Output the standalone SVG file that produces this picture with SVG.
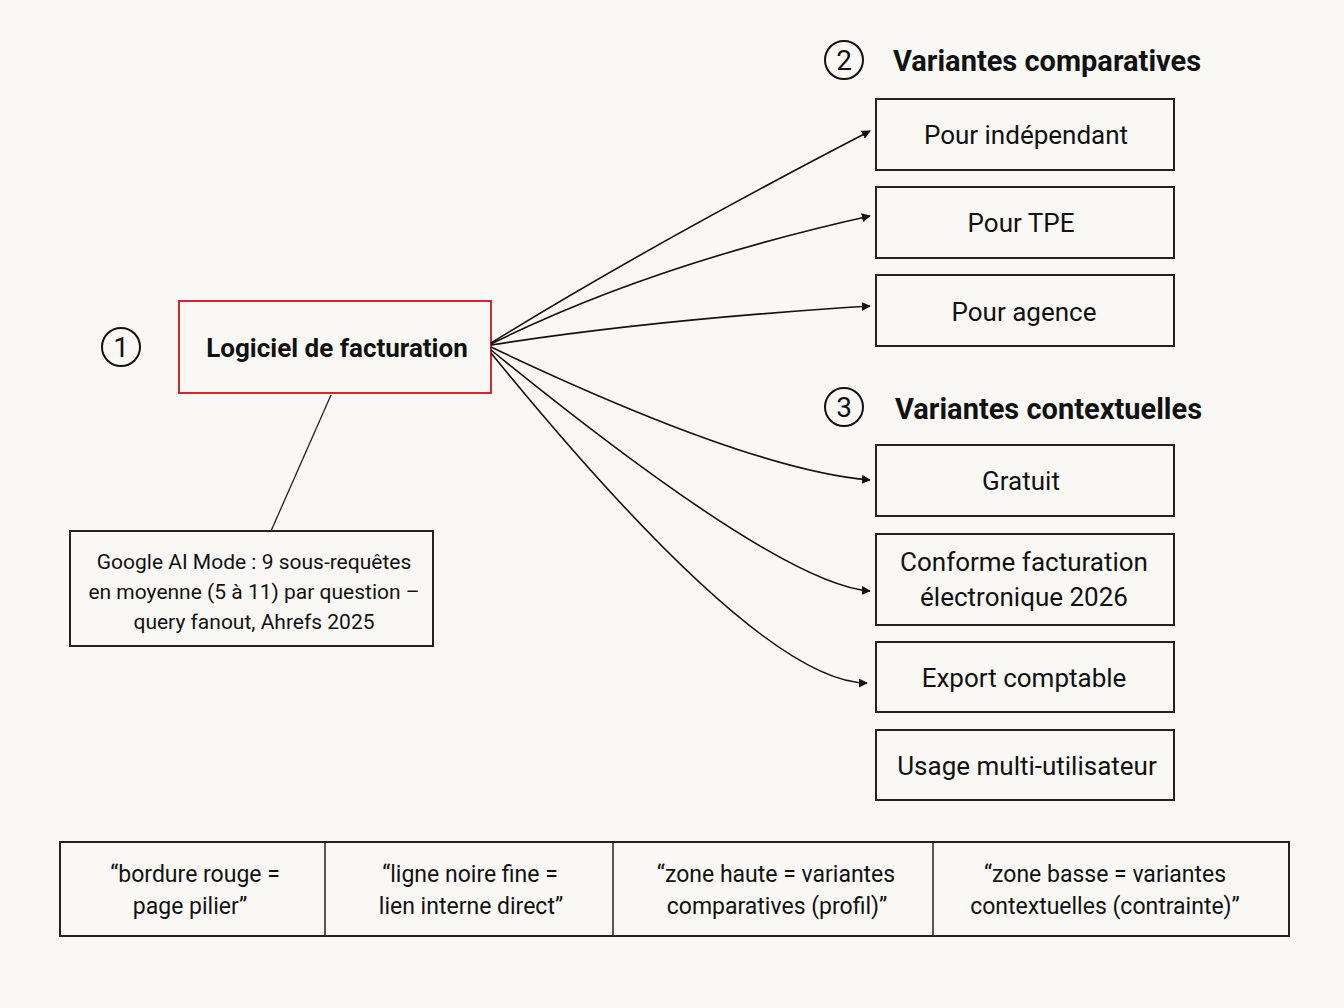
<svg xmlns="http://www.w3.org/2000/svg" width="1344" height="1008" viewBox="0 0 1344 1008">
<defs>
<marker id="ah" viewBox="0 0 10 10" refX="9" refY="5" markerWidth="9" markerHeight="9" markerUnits="userSpaceOnUse" orient="auto"><path d="M0,0 L10,5 L0,10 z" fill="#111"/></marker>
<style>
text{font-family:Roboto,"Liberation Sans",sans-serif;fill:#111}
.box{fill:none;stroke:#222;stroke-width:2}
.t{font-size:26px;text-anchor:middle}
.h{font-size:29px;font-weight:bold}
.n{font-size:21px;text-anchor:middle}
.l{font-size:23px;text-anchor:middle}
.c{fill:none;stroke:#111;stroke-width:2}
.cn{font-size:28px;text-anchor:middle}
.e{fill:none;stroke:#111;stroke-width:1.6}
</style>
</defs>
<rect width="1344" height="1008" fill="#f9f8f5"/>
<g id="pillar">
<circle class="c" cx="121" cy="347" r="19"/><text class="cn" x="121" y="357">1</text>
<rect x="179" y="301" width="312" height="92" fill="none" stroke="#d9232e" stroke-width="2"/>
<text class="t" x="337" y="357" font-weight="bold" font-size="27">Logiciel de facturation</text>
</g>
<g id="note">
<rect class="box" x="70" y="531" width="363" height="115" stroke-width="1.5"/>
<text class="n" x="254" y="569">Google AI Mode : 9 sous-requêtes</text>
<text class="n" x="254" y="599">en moyenne (5 à 11) par question –</text>
<text class="n" x="254" y="629">query fanout, Ahrefs 2025</text>
</g>
<g id="head2"><circle class="c" cx="844" cy="60" r="19"/><text class="cn" x="844" y="70">2</text><text class="h" x="893" y="71">Variantes comparatives</text></g>
<g id="head3"><circle class="c" cx="844" cy="407" r="19"/><text class="cn" x="844" y="417">3</text><text class="h" x="895" y="419">Variantes contextuelles</text></g>
<g id="n1"><rect class="box" x="876" y="99" width="298" height="71"/><text class="t" x="1026" y="144">Pour indépendant</text></g>
<g id="n2"><rect class="box" x="876" y="187" width="298" height="71"/><text class="t" x="1021" y="232">Pour TPE</text></g>
<g id="n3"><rect class="box" x="876" y="275" width="298" height="71"/><text class="t" x="1024" y="321">Pour agence</text></g>
<g id="n4"><rect class="box" x="876" y="445" width="298" height="71"/><text class="t" x="1021" y="490">Gratuit</text></g>
<g id="n5"><rect class="box" x="876" y="534" width="298" height="91"/><text class="t" x="1024" y="571">Conforme facturation</text><text class="t" x="1024" y="606">électronique 2026</text></g>
<g id="n6"><rect class="box" x="876" y="642" width="298" height="70"/><text class="t" x="1024" y="687">Export comptable</text></g>
<g id="n7"><rect class="box" x="876" y="730" width="298" height="70"/><text class="t" x="1027" y="775">Usage multi-utilisateur</text></g>
<g id="connectors">
<line x1="331" y1="395" x2="271" y2="531" stroke="#222" stroke-width="1.3"/>
<path class="e" d="M491,343 Q650,245 870,131" marker-end="url(#ah)"/>
<path class="e" d="M491,344 Q650,265 870,216" marker-end="url(#ah)"/>
<path class="e" d="M491,345 Q650,320 870,306" marker-end="url(#ah)"/>
<path class="e" d="M491,347 Q750,470 870,480" marker-end="url(#ah)"/>
<path class="e" d="M491,350 Q780,585 870,591" marker-end="url(#ah)"/>
<path class="e" d="M491,353 Q760,683 867,683" marker-end="url(#ah)"/>
</g>
<g id="legend">
<rect class="box" x="60" y="842" width="1229" height="94" stroke-width="1.5"/>
<line x1="325" y1="842" x2="325" y2="936" stroke="#222" stroke-width="1.5"/>
<line x1="613" y1="842" x2="613" y2="936" stroke="#222" stroke-width="1.5"/>
<line x1="933" y1="842" x2="933" y2="936" stroke="#222" stroke-width="1.5"/>
<text class="l" x="195" y="882">“bordure rouge =</text><text class="l" x="190" y="914">page pilier”</text>
<text class="l" x="470" y="882">“ligne noire fine =</text><text class="l" x="471" y="914">lien interne direct”</text>
<text class="l" x="776" y="882">“zone haute = variantes</text><text class="l" x="777" y="914">comparatives (profil)”</text>
<text class="l" x="1105" y="882">“zone basse = variantes</text><text class="l" x="1105" y="914">contextuelles (contrainte)”</text>
</g>
</svg>
